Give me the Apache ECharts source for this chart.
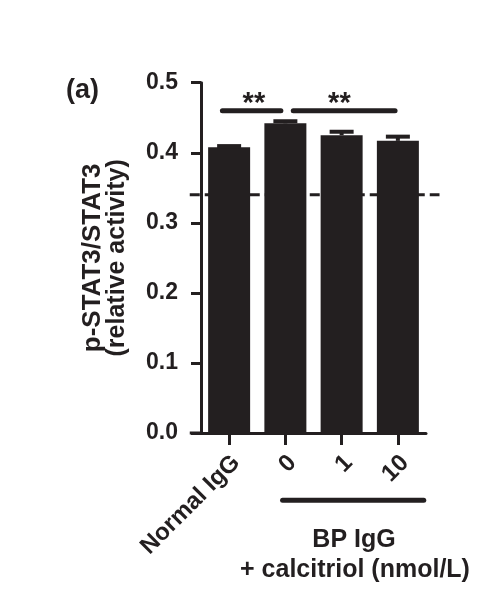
<!DOCTYPE html>
<html><head><meta charset="utf-8">
<script src="https://cdn.jsdelivr.net/npm/echarts@6/dist/echarts.min.js"></script>
<style>html,body{margin:0;padding:0;background:#fff}#c{width:500px;height:600px}</style>
</head><body><div id="c"></div>
<script>
// ---- data ----
const categories = ['Normal IgG', '0', '1', '10'];
const means = [0.408, 0.442, 0.425, 0.417];
const errors = [0.0015, 0.003, 0.005, 0.006];
const yMin = 0, yMax = 0.5, yStep = 0.1;
const refValue = 0.34;                 // dashed reference line
const refSpan = [-0.7, 3.74];          // in category units (hidden value axis)
const axisExtension = [-0.7, -0.5];    // x-axis line stub left of y axis
// [from, to, level, starX, label]
const sigBrackets = [
  [-0.12, 0.92, 0.46, 0.44, '**'],
  [1.14, 2.95, 0.46, 1.96, '**']
];
const groupLine = [0.95, 3.46, -0.096];
const groupLabel1 = 'BP IgG';
const groupLabel2 = '+ calcitriol (nmol/L)';
const panelLabel = '(a)';
const yName1 = 'p-STAT3/STAT3';
const yName2 = '(relative activity)';

const ink = '#231f20';
const FONT = '"Liberation Sans", Arial, Helvetica, sans-serif';

const chart = echarts.init(document.getElementById('c'), null, {renderer: 'canvas'});

const option = {
  animation: false,
  backgroundColor: '#fff',
  grid: {left: 201, top: 82.7, width: 225, height: 350.3, containLabel: false},
  xAxis: [{
    type: 'category',
    data: categories,
    boundaryGap: true,
    axisLine: {show: true, onZero: false, lineStyle: {color: ink, width: 3}},
    axisTick: {show: true, alignWithLabel: true, length: 12, lineStyle: {color: ink, width: 3}},
    axisLabel: {
      interval: 0, rotate: 45, margin: 19, color: ink,
      fontFamily: FONT, fontWeight: 'bold', fontSize: 24,
      verticalAlign: 'top', lineHeight: 20
    },
    splitLine: {show: false}
  }, {
    type: 'value', min: -0.5, max: 3.5, show: false
  }],
  yAxis: {
    type: 'value', min: yMin, max: yMax, interval: yStep,
    axisLine: {show: true, onZero: false, lineStyle: {color: ink, width: 3}},
    axisTick: {show: true, length: 10, lineStyle: {color: ink, width: 3}},
    axisLabel: {
      margin: 23, color: ink, fontFamily: FONT, fontWeight: 'bold', fontSize: 23,
      formatter: v => v.toFixed(1)
    },
    splitLine: {show: false},
    name: '{a|' + yName1 + '}\n{b|' + yName2 + '}',
    nameLocation: 'middle', nameRotate: 90, nameGap: 71,
    nameTextStyle: {
      color: ink, fontFamily: FONT, fontWeight: 'bold',
      rich: {
        a: {fontSize: 26, lineHeight: 25, fontWeight: 'bold', fontFamily: FONT, color: ink},
        b: {fontSize: 25, lineHeight: 25, fontWeight: 'bold', fontFamily: FONT, color: ink}
      }
    }
  },
  series: [
    {
      type: 'custom', name: 'ref', xAxisIndex: 1, z: 1, silent: true, clip: false,
      data: [[refSpan[0], refSpan[1], refValue]],
      renderItem: (params, api) => {
        const a = api.coord([api.value(0), api.value(2)]);
        const b = api.coord([api.value(1), api.value(2)]);
        return {type: 'line', shape: {x1: a[0], y1: a[1], x2: b[0], y2: b[1]},
          style: {stroke: ink, lineWidth: 3, lineDash: [10, 5]}};
      }
    },
    {
      type: 'bar', data: means, barWidth: 42, z: 2,
      itemStyle: {color: ink}
    },
    {
      type: 'custom', name: 'err', z: 3, silent: true,
      data: means.map((m, i) => [i, m, errors[i]]),
      renderItem: (params, api) => {
        const i = api.value(0), m = api.value(1), e = api.value(2);
        const top = api.coord([i, m + e]);
        const base = api.coord([i, m]);
        return {type: 'group', children: [
          {type: 'line', shape: {x1: top[0], y1: base[1], x2: top[0], y2: top[1]},
            style: {stroke: ink, lineWidth: 4}},
          {type: 'line', shape: {x1: top[0] - 12, y1: top[1], x2: top[0] + 12, y2: top[1]},
            style: {stroke: ink, lineWidth: 4}}
        ]};
      }
    },
    {
      type: 'custom', name: 'axisExt', xAxisIndex: 1, z: 3, silent: true, clip: false,
      data: [[axisExtension[0], axisExtension[1], 0]],
      renderItem: (params, api) => {
        const a = api.coord([api.value(0), api.value(2)]);
        const b = api.coord([api.value(1), api.value(2)]);
        return {type: 'line', shape: {x1: a[0], y1: a[1], x2: b[0] + 1.5, y2: b[1]},
          style: {stroke: ink, lineWidth: 3}};
      }
    },
    {
      type: 'custom', name: 'sig', xAxisIndex: 1, z: 3, silent: true, clip: false,
      data: sigBrackets,
      renderItem: (params, api) => {
        const a = api.coord([api.value(0), api.value(2)]);
        const b = api.coord([api.value(1), api.value(2)]);
        const s = api.coord([api.value(3), api.value(2)]);
        const lbl = sigBrackets[params.dataIndex][4];
        return {type: 'group', children: [
          {type: 'line', shape: {x1: a[0], y1: a[1], x2: b[0], y2: b[1]},
            style: {stroke: ink, lineWidth: 5, lineCap: 'round'}},
          {type: 'text', style: {x: s[0], y: a[1] - 7, text: lbl, fill: ink,
            font: 'bold 29px ' + FONT, textAlign: 'center', textVerticalAlign: 'middle'}}
        ]};
      }
    },
    {
      type: 'custom', name: 'group', xAxisIndex: 1, z: 3, silent: true, clip: false,
      data: [groupLine],
      renderItem: (params, api) => {
        const a = api.coord([api.value(0), api.value(2)]);
        const b = api.coord([api.value(1), api.value(2)]);
        return {type: 'line', shape: {x1: a[0], y1: a[1], x2: b[0], y2: b[1]},
          style: {stroke: ink, lineWidth: 5, lineCap: 'round'}};
      }
    }
  ],
  graphic: [
    {type: 'text', left: 66, top: 77, style: {text: panelLabel, fill: ink, font: 'bold 27px ' + FONT}},
    {type: 'text', x: 354, y: 540, style: {text: groupLabel1, fill: ink, font: 'bold 25px ' + FONT,
      textAlign: 'center', textVerticalAlign: 'middle'}},
    {type: 'text', x: 355, y: 570, style: {text: groupLabel2, fill: ink, font: 'bold 25px ' + FONT,
      textAlign: 'center', textVerticalAlign: 'middle'}}
  ]
};
chart.setOption(option);
</script>
</body></html>
